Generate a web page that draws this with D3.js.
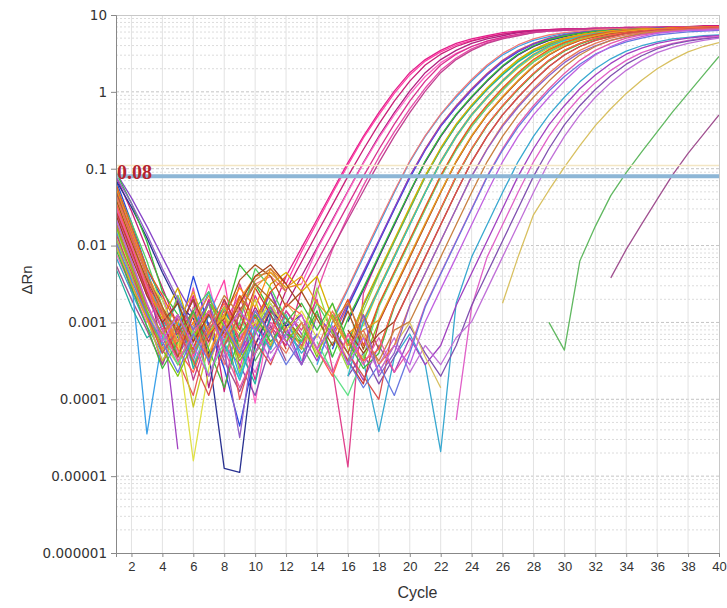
<!DOCTYPE html>
<html><head><meta charset="utf-8">
<script src="https://cdn.jsdelivr.net/npm/d3@7"></script>
<style>body{margin:0;background:#fff} svg{display:block}</style>
</head><body><svg id="chart" width="727" height="608"></svg>
<script>
// ---- data (ΔRn, stored as log10 ΔRn, cycles 1..40; null = not shown / ≤0) ----
const cycles = [1,2,3,4,5,6,7,8,9,10,11,12,13,14,15,16,17,18,19,20,21,22,23,24,25,26,27,28,29,30,31,32,33,34,35,36,37,38,39,40];
const xTickValues = [2,4,6,8,10,12,14,16,18,20,22,24,26,28,30,32,34,36,38,40];
const yTickValues = [1e-6,1e-5,1e-4,1e-3,1e-2,1e-1,1,10];
const yTickLabels = ["0.000001","0.00001","0.0001","0.001","0.01","0.1","1","10"];
const thresholdValue = 0.08;
const thresholdLabel = "0.08";
const upperLineValue = 0.11;

const pinkWellColors = ["#e0208a","#ff3fa6","#c81e78","#e84ca8","#b02080","#ff66c4","#d9308f","#c04090"];
const pinkWellsLog = [
[-1.30,-1.90,-2.50,-2.85,-3.25,-2.65,-3.50,-2.80,-3.05,-3.75,-2.90,-2.40,-2.03,-1.66,-1.29,-0.92,-0.58,-0.27,0.01,0.25,0.42,0.54,0.63,0.69,0.73,0.77,0.79,0.80,0.81,0.82,0.82,0.83,0.83,0.84,0.84,0.84,0.85,0.85,0.85,0.86],
[-1.60,-2.20,-2.75,-3.20,-2.70,-3.45,-2.90,-2.45,-3.60,-2.85,null,-2.50,-2.08,-1.70,-1.32,-0.95,-0.60,-0.30,-0.02,0.22,0.40,0.52,0.61,0.67,0.72,0.75,0.77,0.79,0.80,0.81,0.81,0.82,0.82,0.83,0.83,0.83,0.84,0.84,0.84,0.85],
[-1.10,-1.55,-2.05,-2.55,-3.05,-3.35,-2.70,-3.90,-2.80,-3.40,-3.10,-2.58,-2.21,-1.84,-1.47,-1.10,-0.75,-0.42,-0.12,0.14,0.35,0.49,0.59,0.66,0.71,0.75,0.78,0.80,0.81,0.82,0.82,0.83,0.83,0.84,0.84,0.84,0.85,0.85,0.86,0.86],
[-1.45,-1.95,-2.60,-2.85,-3.40,-2.55,-3.55,-3.00,-2.65,-3.30,null,null,-3.55,-2.60,-2.05,-1.62,-1.22,-0.85,-0.52,-0.22,0.05,0.28,0.44,0.56,0.64,0.70,0.74,0.77,0.79,0.80,0.81,0.82,0.82,0.83,0.83,0.83,0.84,0.84,0.85,0.85],
[-1.25,-1.85,-2.40,-3.35,-3.10,-2.70,-3.85,-2.90,-3.25,-2.80,-3.15,-2.77,-2.40,-2.03,-1.66,-1.29,-0.92,-0.58,-0.27,0.01,0.25,0.42,0.54,0.63,0.69,0.73,0.77,0.79,0.80,0.81,0.82,0.82,0.83,0.83,0.84,0.84,0.84,0.85,0.85,0.85],
[-2.10,-2.55,-3.00,-2.60,-3.40,-3.10,-2.50,-3.30,-3.05,-4.05,-2.85,null,-2.50,-2.05,-1.68,-1.30,-0.93,-0.60,-0.30,-0.03,0.20,0.38,0.50,0.59,0.66,0.71,0.74,0.77,0.79,0.80,0.81,0.81,0.82,0.82,0.83,0.83,0.83,0.84,0.84,0.84],
[-1.70,-2.30,-2.90,-3.55,-2.90,-3.25,-2.70,-3.00,-3.45,-2.65,-3.05,-3.30,-2.58,-2.21,-1.84,-1.47,-1.10,-0.75,-0.42,-0.12,0.14,0.35,0.49,0.59,0.66,0.71,0.75,0.78,0.80,0.81,0.82,0.82,0.83,0.83,0.84,0.84,0.84,0.85,0.85,0.85],
[-1.95,-2.60,-2.85,-3.30,-2.95,-3.75,-3.15,-2.85,-3.20,-3.00,-2.60,-3.15,-3.35,-2.40,-2.03,-1.66,-1.29,-0.92,-0.58,-0.27,0.01,0.25,0.42,0.54,0.63,0.69,0.73,0.77,0.79,0.80,0.81,0.82,0.82,0.83,0.83,0.84,0.84,0.84,0.85,0.85]
];

const lateWellColors = ["#38a8d0","#a040c0","#e060c8","#8050b0","#c070d8","#d8c060","#60b860","#a05090"];
const lateWellsLog = [
[-2.15,-2.60,-3.05,-3.40,-3.00,-3.50,-2.90,-3.30,-3.75,-3.15,-2.75,-3.10,-3.40,-3.15,null,null,-3.50,-4.42,-3.45,-3.15,-3.55,-4.68,-2.75,-2.15,-1.73,-1.31,-0.91,-0.58,-0.30,-0.07,0.13,0.30,0.43,0.53,0.60,0.65,0.69,0.71,0.73,0.74],
[-1.30,-1.80,-2.35,-2.90,-4.65,null,null,-3.05,-3.40,-3.00,-3.35,-2.85,-3.15,-3.50,-3.05,-3.40,-3.75,-3.30,-3.65,-3.20,-3.55,-3.30,-2.78,-2.36,-1.94,-1.52,-1.10,-0.74,-0.43,-0.18,0.04,0.22,0.37,0.49,0.57,0.63,0.67,0.70,0.72,0.73],
[-1.90,-2.40,-2.90,-3.35,-3.05,-3.55,-3.25,-2.90,-3.30,-3.65,-3.10,null,null,null,null,null,null,null,null,null,null,null,-4.27,-2.80,-2.15,-1.73,-1.31,-0.91,-0.58,-0.30,-0.07,0.12,0.28,0.41,0.51,0.58,0.63,0.67,0.70,0.72],
[-1.55,-2.05,-2.65,-3.10,-3.45,-3.05,-2.75,-3.30,-3.55,-3.95,-3.30,-3.00,-3.30,null,null,-3.70,-3.40,-3.80,-3.45,-3.05,-3.40,-3.70,-3.30,-2.78,-2.36,-1.94,-1.52,-1.10,-0.74,-0.43,-0.18,0.03,0.21,0.36,0.47,0.56,0.62,0.66,0.69,0.71],
[-2.00,-2.50,-2.95,-3.50,-3.15,-3.55,-3.05,-3.45,-3.20,-2.90,-3.40,-3.15,-3.55,-3.15,-3.45,null,null,-3.55,-3.20,-3.65,-3.30,-3.55,-3.20,-2.99,-2.57,-2.15,-1.73,-1.31,-0.91,-0.58,-0.30,-0.07,0.12,0.28,0.41,0.51,0.58,0.63,0.67,0.70],
[-1.80,-2.30,-2.85,-3.25,-3.55,-3.05,-3.40,-2.90,-3.30,-3.00,-3.15,-2.75,-3.00,-3.40,-3.05,-3.50,-3.15,-3.65,-3.30,-3.00,-3.45,-3.85,null,null,null,-2.75,-2.15,-1.60,-1.28,-0.98,-0.70,-0.44,-0.22,-0.02,0.15,0.30,0.42,0.52,0.59,0.64],
[-1.75,-2.25,-2.80,-3.15,-3.55,-3.15,-2.85,-3.30,-3.00,-3.50,-3.15,null,-3.30,-3.65,-3.25,null,null,null,null,null,null,null,null,null,null,null,null,null,-3.00,-3.36,-2.20,-1.75,-1.35,-1.05,-0.78,-0.52,-0.26,-0.02,0.22,0.46],
[-2.25,-2.70,-3.10,-3.55,-3.05,-3.40,-3.00,-3.50,-3.90,-3.40,-3.05,-3.50,null,null,null,null,null,null,null,null,null,null,null,null,null,null,null,null,null,null,null,null,-2.42,-2.05,-1.72,-1.40,-1.08,-0.80,-0.55,-0.30]
];

const mainWellColors = ["#3aa0e8","#f07878","#e85858","#2848e0","#8844c8","#e0408c","#283090","#38c038","#f08a28","#98d838","#20b0a0","#d8b000","#50d060","#ff8c10","#c8c828","#30c0c8","#e0e048","#a85020","#60e088","#e85a20","#80c810","#c83838","#e8a020","#b06030","#40b840","#ff6048","#a04020","#d85050","#e87858","#9060c8","#c88040","#e858a8","#6878e0","#c060e0"];
const mainWellsLog = [
[-1.80,-2.45,-4.45,-3.20,-2.65,-3.10,-2.60,-3.05,-3.70,-2.90,null,null,null,-3.55,-2.99,-2.57,-2.15,-1.73,-1.31,-0.91,-0.58,-0.30,-0.07,0.14,0.33,0.48,0.59,0.67,0.72,0.76,0.78,0.80,0.80,0.81,0.82,0.82,0.83,0.83,0.84,0.84],
[-1.50,-2.05,-2.65,-2.90,-3.45,-2.80,-3.10,-3.55,-2.75,-2.50,-2.40,-2.60,null,null,-2.95,-2.55,-2.12,-1.70,-1.29,-0.90,-0.57,-0.29,-0.05,0.16,0.35,0.50,0.61,0.69,0.74,0.77,0.79,0.81,0.82,0.82,0.83,0.83,0.84,0.84,0.85,0.85],
[-1.35,-1.90,-2.50,-3.00,-3.50,-3.95,-3.15,-2.90,-4.00,-3.30,-2.80,-3.10,-3.30,-2.90,-3.20,-2.78,-2.36,-1.94,-1.52,-1.10,-0.74,-0.43,-0.18,0.04,0.24,0.41,0.54,0.63,0.70,0.74,0.77,0.79,0.80,0.81,0.82,0.83,0.83,0.84,0.84,0.84],
[-1.15,-1.70,-2.30,-2.70,-3.20,-2.40,-3.05,-3.60,-4.35,-3.40,-2.95,null,null,null,-3.35,-2.80,-2.38,-1.95,-1.53,-1.12,-0.76,-0.45,-0.20,0.02,0.22,0.39,0.52,0.62,0.69,0.74,0.77,0.79,0.80,0.81,0.82,0.83,0.83,0.84,0.84,0.85],
[-1.05,-1.38,-1.75,-2.15,-2.55,-2.90,-3.20,-2.70,-3.45,-3.10,-2.60,-3.05,-3.55,-2.90,-3.15,-2.75,-2.34,-1.93,-1.51,-1.10,-0.75,-0.44,-0.19,0.03,0.23,0.40,0.53,0.62,0.69,0.74,0.77,0.79,0.80,0.81,0.82,0.82,0.83,0.83,0.84,0.84],
[-1.55,-2.10,-2.60,-3.10,-2.70,-3.40,-2.90,-3.25,-2.50,-3.05,-3.30,-2.85,-3.10,-2.70,-3.60,-4.88,-2.62,-2.15,-1.73,-1.31,-0.91,-0.58,-0.30,-0.07,0.14,0.33,0.48,0.59,0.67,0.72,0.76,0.78,0.80,0.80,0.81,0.82,0.82,0.83,0.83,0.84],
[-1.15,-1.50,-1.90,-2.35,-2.75,-2.95,-3.40,-4.90,-4.95,-3.30,-2.85,-3.05,-2.90,null,null,-2.99,-2.57,-2.15,-1.73,-1.31,-0.91,-0.58,-0.30,-0.07,0.14,0.33,0.48,0.59,0.67,0.72,0.76,0.78,0.80,0.80,0.81,0.82,0.82,0.83,0.83,0.84],
[-1.05,-1.45,-1.95,-2.60,-2.90,-3.20,-2.75,-2.95,-2.25,-2.50,-2.85,-3.15,-3.25,-2.85,-3.45,-2.95,-2.55,-2.13,-1.71,-1.30,-0.90,-0.57,-0.29,-0.06,0.15,0.34,0.49,0.60,0.68,0.73,0.76,0.79,0.80,0.81,0.82,0.82,0.83,0.83,0.84,0.84],
[-1.50,-2.00,-2.55,-2.85,-3.30,-3.00,-2.65,-3.15,-2.70,-2.40,-2.35,-2.55,-2.50,null,null,-3.40,-2.78,-2.36,-1.94,-1.52,-1.10,-0.74,-0.43,-0.18,0.04,0.24,0.41,0.54,0.63,0.70,0.74,0.77,0.79,0.80,0.81,0.82,0.83,0.83,0.84,0.85],
[-1.90,-2.40,-2.95,-3.25,-2.65,-3.55,-3.15,-2.80,-3.65,-3.10,-2.70,-2.95,-3.20,-2.55,-3.15,-3.60,-2.85,-2.38,-1.95,-1.53,-1.11,-0.75,-0.44,-0.19,0.03,0.23,0.40,0.53,0.62,0.69,0.74,0.77,0.79,0.80,0.81,0.82,0.82,0.83,0.83,0.84],
[-2.30,-2.80,-3.20,-3.05,-2.75,-3.60,-3.10,-2.80,-3.35,-3.80,-2.90,-3.20,null,null,null,-3.25,-2.78,-2.36,-1.94,-1.52,-1.10,-0.75,-0.44,-0.19,0.03,0.22,0.39,0.52,0.61,0.68,0.73,0.76,0.78,0.80,0.81,0.81,0.82,0.83,0.83,0.84],
[-1.40,-1.95,-2.55,-2.95,-2.55,-3.20,-2.85,-3.30,-2.65,-3.10,-2.50,-2.35,-2.60,-2.40,-2.95,-3.30,-2.76,-2.34,-1.92,-1.50,-1.09,-0.73,-0.42,-0.17,0.05,0.25,0.42,0.55,0.64,0.70,0.74,0.77,0.79,0.80,0.81,0.82,0.83,0.83,0.84,0.84],
[-1.25,-1.70,-2.20,-2.80,-3.45,-2.85,-2.60,-3.40,-3.00,-2.30,-2.55,-2.95,-3.25,-2.75,-3.10,-3.55,-2.99,-2.57,-2.15,-1.73,-1.31,-0.91,-0.58,-0.30,-0.07,0.14,0.33,0.48,0.59,0.67,0.72,0.76,0.78,0.80,0.80,0.81,0.82,0.82,0.83,0.83],
[-1.25,-1.80,-2.35,-2.80,-3.35,-3.00,-3.45,-2.90,-2.55,-2.80,-2.30,-2.50,null,null,null,-3.15,-2.97,-2.55,-2.13,-1.71,-1.30,-0.90,-0.57,-0.29,-0.06,0.15,0.34,0.49,0.60,0.68,0.73,0.77,0.79,0.81,0.82,0.82,0.83,0.84,0.84,0.85],
[-2.00,-2.50,-2.95,-3.50,-3.15,-4.10,-3.30,-2.80,-3.10,-2.70,-3.30,-2.90,-3.35,-2.90,null,null,-3.05,-2.57,-2.15,-1.73,-1.31,-0.92,-0.59,-0.31,-0.08,0.13,0.31,0.46,0.57,0.65,0.70,0.74,0.77,0.79,0.80,0.81,0.81,0.82,0.82,0.83],
[-1.20,-1.75,-2.30,-3.05,-3.00,-3.40,-2.90,-3.25,-3.75,-3.05,-3.35,-2.90,-3.50,null,null,-3.70,-2.99,-2.57,-2.15,-1.73,-1.31,-0.91,-0.58,-0.30,-0.07,0.14,0.33,0.48,0.59,0.67,0.72,0.76,0.78,0.80,0.80,0.81,0.82,0.82,0.83,0.83],
[-1.40,-1.95,-2.45,-2.70,-3.25,-4.80,-3.60,-2.90,-3.15,-3.00,-2.75,-3.10,-2.85,-3.20,-2.75,-3.35,-3.45,-2.78,-2.36,-1.94,-1.52,-1.10,-0.74,-0.43,-0.18,0.04,0.24,0.41,0.54,0.63,0.70,0.74,0.77,0.79,0.80,0.81,0.82,0.83,0.83,0.84],
[-1.40,-1.95,-2.45,-2.85,-3.10,-2.70,-3.15,-2.95,-2.45,-2.25,-2.40,-2.80,-2.60,-2.95,-3.30,-2.85,-3.35,-2.78,-2.36,-1.94,-1.52,-1.10,-0.75,-0.45,-0.20,0.02,0.22,0.39,0.52,0.62,0.69,0.74,0.77,0.79,0.80,0.81,0.82,0.83,0.83,0.84],
[-1.65,-2.20,-2.85,-3.15,-3.55,-3.10,-3.70,-3.25,-2.90,-3.40,-3.10,null,null,-3.25,-3.65,-3.95,-3.45,-2.80,-2.37,-1.95,-1.53,-1.11,-0.76,-0.45,-0.20,0.02,0.22,0.39,0.52,0.62,0.69,0.73,0.76,0.78,0.80,0.81,0.81,0.82,0.83,0.83],
[-1.20,-1.75,-2.30,-2.65,-3.05,-3.35,-2.85,-3.20,-2.65,-2.95,-2.60,-2.40,null,null,-3.10,-2.70,-3.30,-2.76,-2.34,-1.92,-1.50,-1.09,-0.73,-0.42,-0.17,0.05,0.25,0.42,0.55,0.64,0.71,0.75,0.78,0.80,0.81,0.82,0.83,0.84,0.84,0.85],
[-1.75,-2.30,-2.85,-3.35,-3.70,-3.25,-2.75,-3.05,-3.50,-3.15,-2.80,-3.25,-3.00,-3.45,-2.90,-3.25,-3.50,-2.99,-2.57,-2.15,-1.73,-1.31,-0.91,-0.58,-0.30,-0.07,0.14,0.33,0.48,0.59,0.67,0.72,0.76,0.78,0.80,0.80,0.81,0.82,0.82,0.83],
[-1.55,-2.05,-2.60,-3.00,-3.45,-2.90,-3.25,-2.70,-3.10,-2.55,-2.90,-3.35,null,null,-3.15,-3.50,-3.80,-3.00,-2.57,-2.15,-1.73,-1.31,-0.91,-0.58,-0.30,-0.07,0.14,0.33,0.48,0.59,0.67,0.72,0.76,0.78,0.80,0.81,0.82,0.83,0.84,0.85],
[-1.95,-2.50,-2.95,-3.35,-3.00,-2.60,-3.15,-2.90,-3.45,-2.55,-2.35,-2.55,-2.40,-2.75,-2.95,-3.30,-3.10,-2.97,-2.55,-2.13,-1.71,-1.30,-0.90,-0.57,-0.29,-0.06,0.15,0.34,0.49,0.60,0.68,0.73,0.77,0.79,0.81,0.82,0.82,0.83,0.84,0.84],
[-1.30,-1.85,-2.40,-2.80,-3.15,-2.85,-3.45,-3.10,-2.85,-2.50,-2.70,-2.95,-3.20,null,-3.10,-3.40,-2.90,-3.35,-2.78,-2.36,-1.94,-1.52,-1.10,-0.74,-0.43,-0.18,0.04,0.24,0.41,0.54,0.63,0.70,0.74,0.77,0.79,0.80,0.81,0.82,0.83,0.84],
[-2.05,-2.55,-3.05,-3.60,-3.25,-2.85,-3.35,-3.85,-3.15,-2.90,-3.25,-3.00,-2.75,-3.10,-2.75,-3.25,-3.60,-3.40,-2.80,-2.37,-1.95,-1.53,-1.11,-0.75,-0.44,-0.19,0.03,0.23,0.40,0.53,0.62,0.69,0.73,0.76,0.78,0.80,0.80,0.81,0.82,0.82],
[-1.45,-2.00,-2.55,-2.90,-3.35,-3.65,-3.10,-2.75,-3.25,-2.85,-3.15,-2.75,-2.90,-3.35,-3.70,-3.15,-3.50,-3.35,-2.78,-2.36,-1.94,-1.52,-1.10,-0.74,-0.43,-0.18,0.04,0.24,0.41,0.54,0.63,0.70,0.74,0.77,0.79,0.81,0.82,0.83,0.84,0.85],
[-1.60,-2.15,-2.65,-3.00,-2.75,-3.25,-2.90,-3.15,-2.75,-2.40,-2.25,-2.50,-2.80,null,null,-3.10,-3.40,-3.15,-2.99,-2.57,-2.15,-1.73,-1.31,-0.91,-0.58,-0.30,-0.07,0.14,0.33,0.48,0.59,0.67,0.72,0.76,0.78,0.80,0.80,0.81,0.82,0.83],
[-1.85,-2.35,-2.90,-3.40,-3.10,-3.50,-3.95,-3.30,-2.90,-3.25,-3.55,-3.05,null,null,null,-3.40,-3.70,-4.00,-3.00,-2.57,-2.15,-1.73,-1.31,-0.91,-0.58,-0.30,-0.07,0.14,0.33,0.48,0.59,0.67,0.72,0.76,0.78,0.80,0.81,0.82,0.83,0.84],
[-1.35,-1.85,-2.40,-2.85,-3.25,-2.90,-3.50,-3.05,-3.35,-2.85,-3.15,-3.40,-3.00,-3.35,-2.85,-3.30,-3.10,-3.55,-3.30,-2.78,-2.36,-1.94,-1.52,-1.10,-0.74,-0.43,-0.18,0.04,0.24,0.41,0.54,0.63,0.70,0.74,0.77,0.79,0.80,0.81,0.82,0.83],
[-1.10,-1.45,-1.85,-2.30,-2.70,-3.10,-2.75,-3.35,-4.50,-3.10,-2.80,-3.25,-3.55,-3.15,null,-3.50,-2.90,-3.70,-3.40,-2.78,-2.36,-1.94,-1.52,-1.10,-0.75,-0.45,-0.20,0.02,0.21,0.38,0.51,0.60,0.67,0.72,0.75,0.77,0.79,0.80,0.81,0.82],
[-1.70,-2.25,-2.80,-3.15,-2.90,-3.40,-3.05,-2.65,-2.90,-2.45,-2.30,-2.60,null,null,-3.00,-2.75,-3.20,-3.50,-3.10,-2.99,-2.57,-2.15,-1.73,-1.31,-0.91,-0.58,-0.30,-0.07,0.14,0.33,0.48,0.59,0.67,0.72,0.76,0.78,0.80,0.80,0.81,0.82],
[-1.50,-2.00,-2.55,-3.10,-3.50,-3.15,-2.85,-3.35,-3.85,-3.40,-3.00,-3.25,null,-3.35,-3.65,-3.15,-3.55,-3.20,-3.65,-3.35,-2.78,-2.36,-1.94,-1.52,-1.10,-0.74,-0.43,-0.18,0.04,0.24,0.41,0.54,0.63,0.70,0.74,0.77,0.79,0.80,0.81,0.82],
[-1.95,-2.45,-2.90,-3.25,-3.65,-3.15,-3.50,-3.05,-3.40,-2.85,-3.15,-3.55,-3.25,null,null,-3.50,-3.85,-3.55,-3.95,-3.40,-2.80,-2.37,-1.95,-1.53,-1.11,-0.76,-0.46,-0.21,0.01,0.20,0.36,0.49,0.58,0.65,0.70,0.74,0.76,0.78,0.79,0.80],
[-1.65,-2.20,-2.75,-3.25,-2.90,-3.30,-3.70,-3.15,-2.85,-3.10,-3.50,-3.15,-2.90,-3.35,-3.05,-3.55,-3.20,-3.65,-3.30,-3.55,-2.99,-2.57,-2.15,-1.73,-1.31,-0.91,-0.58,-0.30,-0.07,0.14,0.33,0.48,0.59,0.67,0.72,0.76,0.78,0.80,0.80,0.81]
];

// ---- layout ----
const W = 727, H = 608;
const plot = {left: 116, right: 719, top: 15, bottom: 553};
const svg = d3.select("#chart");
const x = d3.scaleLinear().domain([1, 40]).range([plot.left, plot.right]);
const y = d3.scaleLog().domain([1e-6, 10]).range([plot.bottom, plot.top]);

svg.append("rect").attr("width", W).attr("height", H).attr("fill", "#fff");

// grid
const grid = svg.append("g");
const decades = yTickValues;
const minorY = y.ticks().filter(v => !decades.some(d => Math.abs(v - d) / d < 1e-6));
grid.selectAll(".minor").data(minorY).join("line")
  .attr("x1", plot.left).attr("x2", plot.right)
  .attr("y1", d => y(d)).attr("y2", d => y(d))
  .attr("stroke", "#dcdcdc").attr("stroke-width", 1).attr("stroke-dasharray", "2,2");
grid.selectAll(".major").data(decades.slice(1, -1)).join("line")
  .attr("x1", plot.left).attr("x2", plot.right)
  .attr("y1", d => y(d)).attr("y2", d => y(d))
  .attr("stroke", "#c4c4c4").attr("stroke-width", 1).attr("stroke-dasharray", "3,2");
grid.selectAll(".vx").data(xTickValues.slice(0, -1)).join("line")
  .attr("x1", d => x(d)).attr("x2", d => x(d))
  .attr("y1", plot.top).attr("y2", plot.bottom)
  .attr("stroke", "#e2e2e2").attr("stroke-width", 1);

// frame
svg.append("line").attr("x1", plot.left).attr("x2", plot.right).attr("y1", plot.top + 0.5).attr("y2", plot.top + 0.5).attr("stroke", "#c8c8c8");
svg.append("line").attr("x1", plot.right + 0.5).attr("x2", plot.right + 0.5).attr("y1", plot.top).attr("y2", plot.bottom).attr("stroke", "#c8c8c8");

// curves
svg.append("clipPath").attr("id", "clip").append("rect")
  .attr("x", plot.left).attr("y", plot.top).attr("width", plot.right - plot.left).attr("height", plot.bottom - plot.top);
const curveG = svg.append("g").attr("clip-path", "url(#clip)");
const line = d3.line()
  .defined(d => d.v !== null)
  .x(d => x(d.c))
  .y(d => y(Math.pow(10, d.v)));
let badRows = 0;
function drawGroup(rows, colors) {
  rows.forEach((row, i) => {
    if (row.length !== cycles.length) badRows++;
    const pts = cycles.map((c, k) => ({c: c, v: row[k] === undefined ? null : row[k]}));
    curveG.append("path").datum(pts)
      .attr("d", line).attr("fill", "none")
      .attr("stroke", colors[i % colors.length])
      .attr("stroke-width", 1.3).attr("stroke-linejoin", "round");
  });
}
drawGroup(pinkWellsLog, pinkWellColors);
drawGroup(lateWellsLog, lateWellColors);
drawGroup(mainWellsLog, mainWellColors);

// threshold lines
svg.append("line").attr("x1", plot.left).attr("x2", plot.right)
  .attr("y1", y(upperLineValue)).attr("y2", y(upperLineValue))
  .attr("stroke", "#f3e6c4").attr("stroke-width", 1.5);
svg.append("line").attr("x1", plot.left).attr("x2", plot.right)
  .attr("y1", y(thresholdValue)).attr("y2", y(thresholdValue))
  .attr("stroke", "#8db6d6").attr("stroke-width", 4);
svg.append("text").attr("x", plot.left + 1).attr("y", y(thresholdValue) + 3)
  .attr("font-family", "Liberation Serif, serif").attr("font-weight", "bold")
  .attr("font-size", 20).attr("fill", "#b5232e").text(thresholdLabel);

// axes
const yAxis = d3.axisLeft(y).tickValues(yTickValues)
  .tickFormat((d, i) => yTickLabels[i]).tickSize(5).tickPadding(4);
const gy = svg.append("g").attr("transform", `translate(${plot.left},0)`).call(yAxis);
gy.select(".domain").attr("stroke", "#888");
gy.selectAll(".tick line").attr("stroke", "#888");
gy.selectAll("text").attr("font-family", "DejaVu Sans, sans-serif").attr("font-size", 13.5).attr("fill", "#333");

const xAxis = d3.axisBottom(x).tickValues(xTickValues).tickSize(4).tickPadding(5);
const gx = svg.append("g").attr("transform", `translate(0,${plot.bottom})`).call(xAxis);
gx.select(".domain").attr("stroke", "#888");
gx.selectAll(".tick line").attr("stroke", "#888");
gx.selectAll("text").attr("font-family", "Liberation Sans Narrow, Liberation Sans, sans-serif").attr("font-size", 13).attr("fill", "#333");

svg.append("text").attr("x", (plot.left + plot.right) / 2).attr("y", 598)
  .attr("text-anchor", "middle").attr("font-family", "Liberation Sans, Arial, sans-serif")
  .attr("font-size", 16).attr("fill", "#333").text("Cycle");
svg.append("text").attr("transform", "translate(32,280) rotate(-90)")
  .attr("text-anchor", "middle").attr("font-family", "Liberation Sans, Arial, sans-serif")
  .attr("font-size", 15).attr("fill", "#333").text("ΔRn");

if (badRows) svg.append("text").attr("x", 300).attr("y", 300).attr("fill", "red").text("bad rows: " + badRows);
</script></body></html>
